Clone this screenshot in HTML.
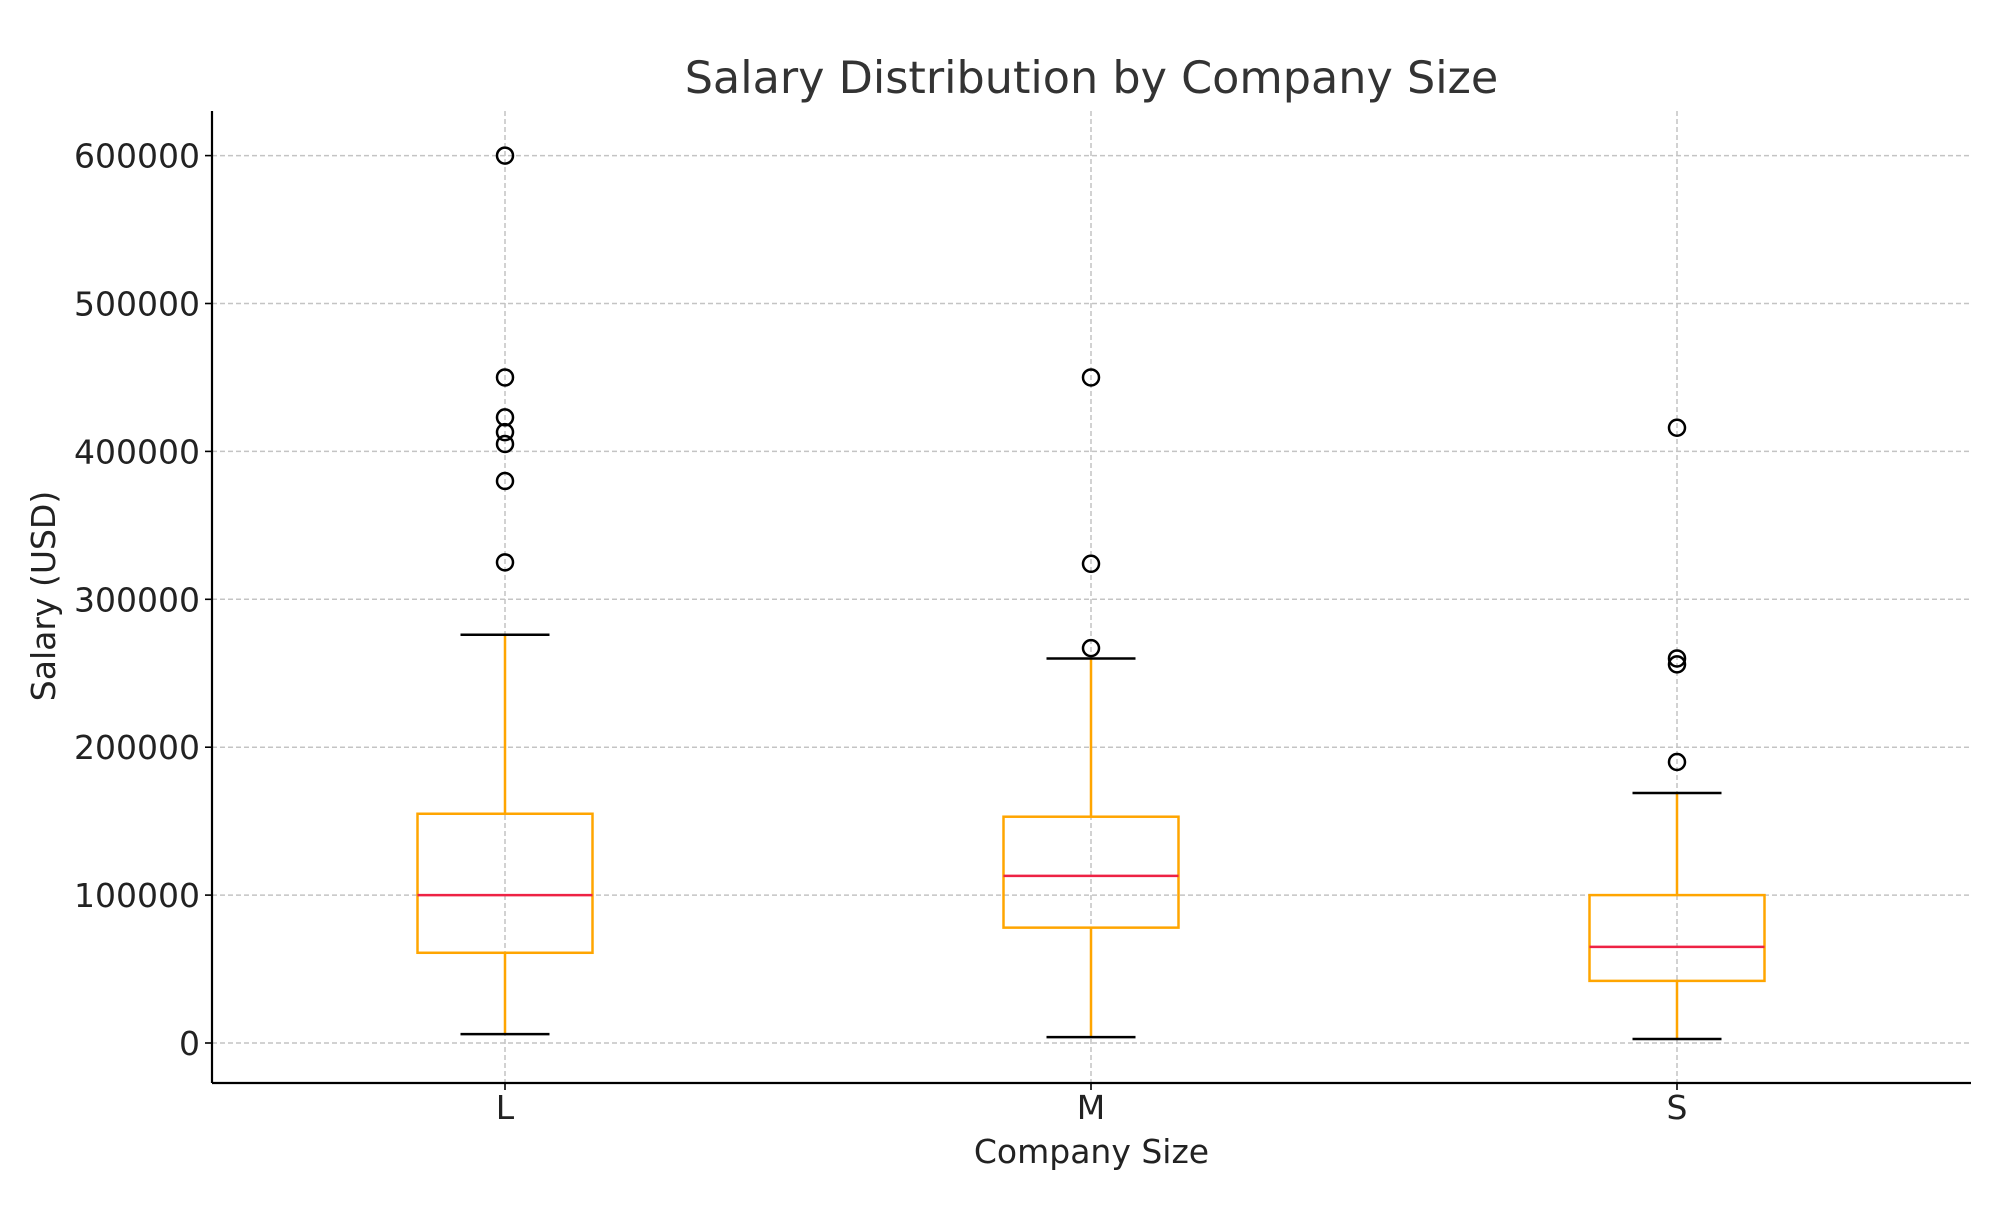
<!DOCTYPE html>
<html><head><meta charset="utf-8"><style>
body{margin:0;background:#fff;}
svg text{font-family:"DejaVu Sans","Liberation Sans",sans-serif;}
</style></head><body>
<svg id="chart" width="2000" height="1200" viewBox="0 0 2000 1200"></svg>
<script>
const categories = ["L","M","S"];
const whiskerLow = [6000, 4000, 2700];
const q1 = [61000, 78000, 42000];
const medians = [100000, 113000, 65000];
const q3 = [155000, 153000, 100000];
const whiskerHigh = [276000, 260000, 169000];
const outliersL = [600000, 450000, 423000, 413000, 405000, 380000, 325000];
const outliersM = [450000, 324000, 267000];
const outliersS = [416000, 260000, 256000, 190000];
const outliers = [outliersL, outliersM, outliersS];
const yTicks = [0,100000,200000,300000,400000,500000,600000];

const NS="http://www.w3.org/2000/svg";
const svg=document.getElementById('chart');
const L=212,R=1971,T=111,B=1083;
const y0=1043, yPer=147.9/100000;
function yS(v){return y0 - v*yPer;}
const xPos=[505,1091,1677];
function xS(i){return xPos[i];}
function mk(tag,attrs,parent){const e=document.createElementNS(NS,tag);for(const k in attrs)e.setAttribute(k,attrs[k]);(parent||svg).appendChild(e);return e;}

yTicks.forEach(v=>{
  const g=mk('line',{x1:L,x2:R,y1:yS(v),y2:yS(v),stroke:'#c4c4c4','stroke-width':1.5,'stroke-dasharray':'5,3'});
  
  
  const t=mk('text',{x:L-12,y:yS(v)+12,'text-anchor':'end','font-size':33,fill:'#222'});
  t.textContent=v;
  
  
  mk('line',{x1:L-7,x2:L,y1:yS(v),y2:yS(v),stroke:'#000','stroke-width':1.6});
});
categories.forEach((c,i)=>{
  const g=mk('line',{x1:xS(i),x2:xS(i),y1:T,y2:B,stroke:'#c4c4c4','stroke-width':1.5,'stroke-dasharray':'5,3'});
  
  
  const t=mk('text',{x:xS(i),y:B+36,'text-anchor':'middle','font-size':33,fill:'#222'});
  t.textContent=c;
  
  
  mk('line',{x1:xS(i),x2:xS(i),y1:B,y2:B+7,stroke:'#000','stroke-width':1.6});
});
const bw=175, cw=89;
categories.forEach((c,i)=>{
  const x=xS(i);
  const g=mk('g',{});
  
  
  mk('line',{x1:x,x2:x,y1:yS(whiskerLow[i]),y2:yS(q1[i]),stroke:'#ffa500','stroke-width':2.5},g);
  mk('line',{x1:x,x2:x,y1:yS(q3[i]),y2:yS(whiskerHigh[i]),stroke:'#ffa500','stroke-width':2.5},g);
  mk('line',{x1:x-cw/2,x2:x+cw/2,y1:yS(whiskerLow[i]),y2:yS(whiskerLow[i]),stroke:'#000','stroke-width':2.5},g);
  mk('line',{x1:x-cw/2,x2:x+cw/2,y1:yS(whiskerHigh[i]),y2:yS(whiskerHigh[i]),stroke:'#000','stroke-width':2.5},g);
  mk('rect',{x:x-bw/2,y:yS(q3[i]),width:bw,height:yS(q1[i])-yS(q3[i]),fill:'none',stroke:'#ffa500','stroke-width':2.5},g);
  mk('line',{x1:x-bw/2,x2:x+bw/2,y1:yS(medians[i]),y2:yS(medians[i]),stroke:'#ee2244','stroke-width':2.5},g);
  outliers[i].forEach(v=>{
    const o=mk('circle',{cx:x,cy:yS(v),r:8,fill:'none',stroke:'#000','stroke-width':2.5},g);
    
    
  });
});
mk('line',{x1:L,x2:L,y1:T,y2:B,stroke:'#000','stroke-width':2.2});
mk('line',{x1:L,x2:R,y1:B,y2:B,stroke:'#000','stroke-width':2.2});
const tt=mk('text',{x:(L+R)/2,y:93,'text-anchor':'middle','font-size':44.5,fill:'#333'});
tt.textContent='Salary Distribution by Company Size';


const xl=mk('text',{x:(L+R)/2,y:1163,'text-anchor':'middle','font-size':33,fill:'#222'});
xl.textContent='Company Size';


const yl=mk('text',{x:0,y:0,'text-anchor':'middle','font-size':33,fill:'#222',transform:'translate(55,'+((T+B)/2-1)+') rotate(-90)'});
yl.textContent='Salary (USD)';


</script>
</body></html>
